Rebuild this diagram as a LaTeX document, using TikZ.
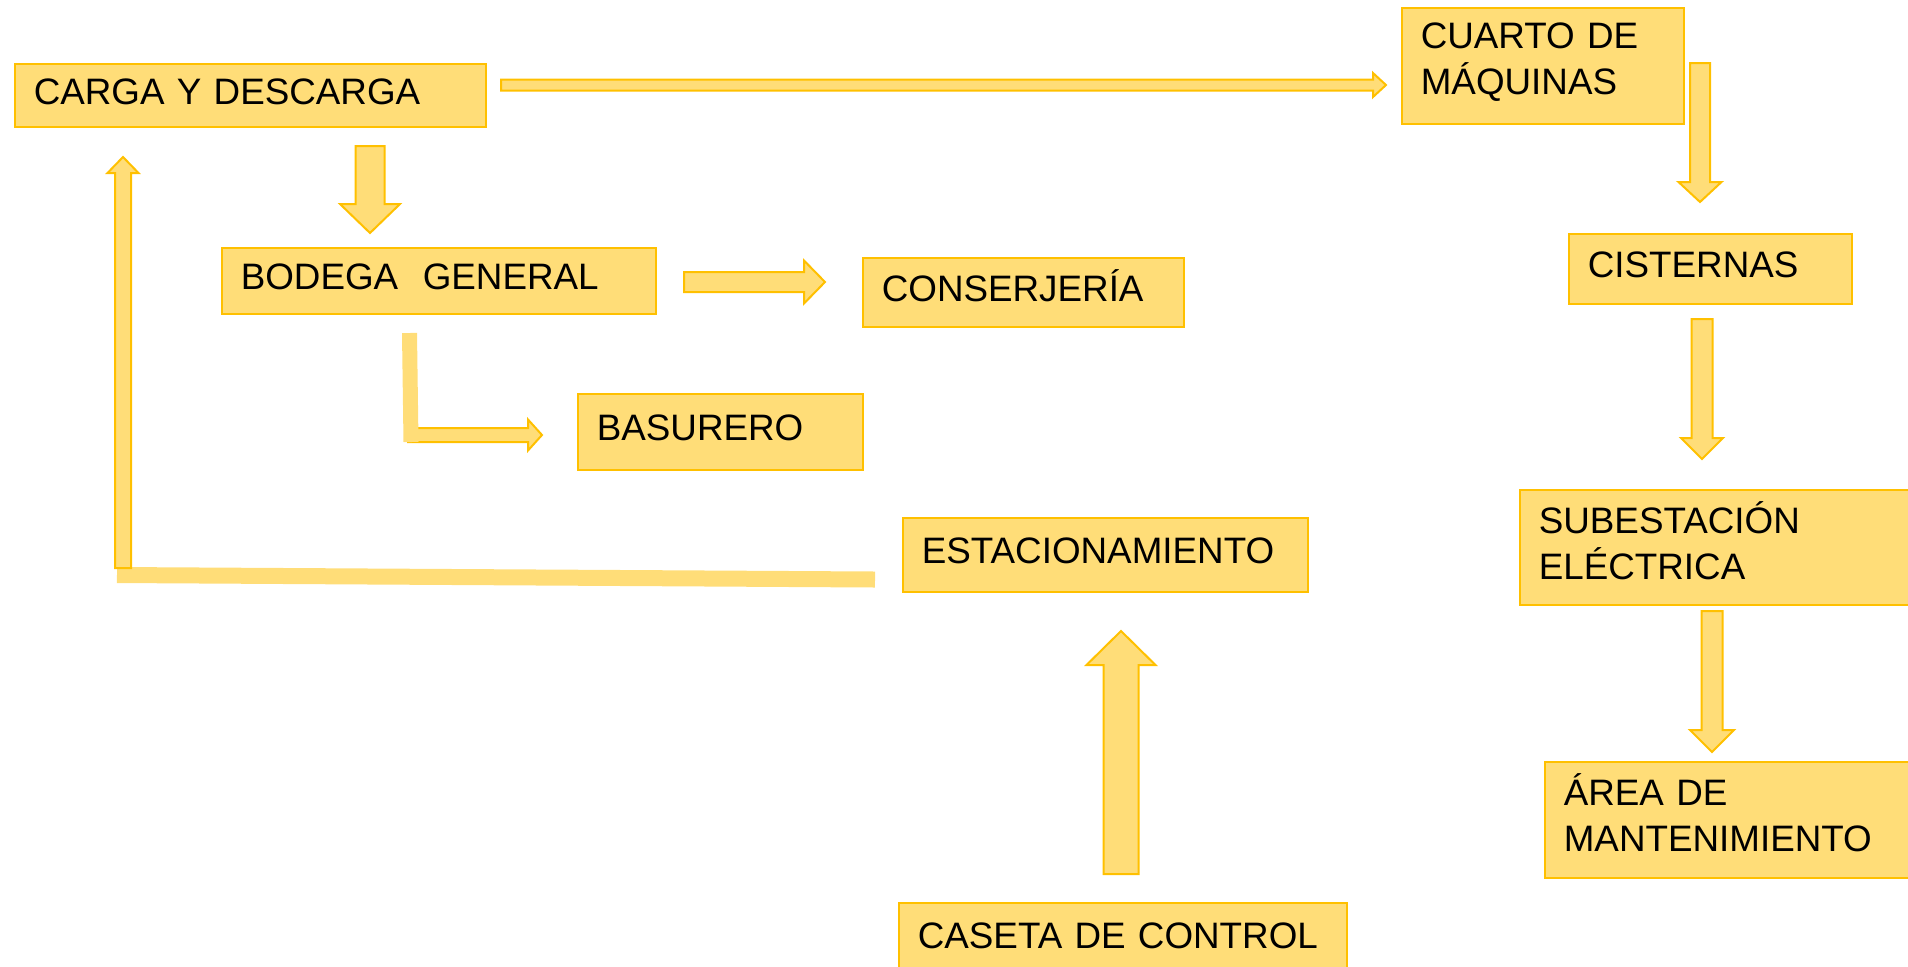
\documentclass[tikz,border=0pt]{standalone}
\usepackage{fontspec}
\setmainfont{Liberation Sans}
\usetikzlibrary{calc}
\definecolor{boxfill}{HTML}{FFDD78}
\definecolor{boxline}{HTML}{FFC000}
\newcommand{\boxfont}{\fontsize{18.4}{23}\selectfont}
% block arrow: tail, tip, half shaft, half head, head length
\newcommand{\blockarrow}[5]{%
  \coordinate (ba-c) at ($(#2)!#5!(#1)$);
  \draw[barrow] ($(#1)!#3!90:(#2)$) -- ($(ba-c)!#3!90:(#2)$) -- ($(ba-c)!#4!90:(#2)$)
    -- (#2) -- ($(ba-c)!#4!-90:(#2)$) -- ($(ba-c)!#3!-90:(#2)$) -- ($(#1)!#3!-90:(#2)$) -- cycle;}
\tikzset{
  blk/.style={draw=boxline, fill=boxfill, line width=0.8pt, anchor=north west,
    inner xsep=9.5pt, inner ysep=0pt, align=left, text height=9.2pt, font=\boxfont},
  barrow/.style={draw=boxline, fill=boxfill, line width=1pt, line join=miter},
  bar/.style={draw=boxfill, line width=#1},
}
\begin{document}
\begin{tikzpicture}[x=0.5pt, y=-0.5pt]
\useasboundingbox (0,0) rectangle (1908,966);
\clip (0,0) rectangle (1908,966);
% boxes
\node[blk, text width=216.5pt, minimum height=31.5pt] (carga) at (14,63) {CARGA~Y~DESCARGA};
\node[blk, text width=122pt, minimum height=58pt] (cuarto) at (1401,7) {CUARTO DE\\MÁQUINAS};
\node[blk, text width=122.5pt, minimum height=35pt] (cisternas) at (1568,233) {CISTERNAS};
\node[blk, text width=198pt, minimum height=33pt] (bodega) at (221,247) {BODEGA~~GENERAL};
\node[blk, text width=141.5pt, minimum height=34.5pt] (conserjeria) at (862,257) {CONSERJERÍA};
\node[blk, text width=123.5pt, minimum height=38pt] (basurero) at (577,393) {BASURERO};
\node[blk, text width=183.5pt, minimum height=37pt] (estacionamiento) at (902,517) {ESTACIONAMIENTO};
\node[blk, text width=179pt, minimum height=57.5pt] (subestacion) at (1519,489) {SUBESTACIÓN\\ELÉCTRICA};
\node[blk, text width=166.5pt, minimum height=58pt] (area) at (1544,761) {ÁREA DE\\MANTENIMIENTO};
\node[blk, text width=205pt, minimum height=36.5pt] (caseta) at (898,902) {CASETA~DE~CONTROL};
% arrow ends
\coordinate (carga-r) at (501,85);      \coordinate (cuarto-l) at (1386,85);
\coordinate (cuarto-b) at (1700,63);    \coordinate (cisternas-t) at (1700,202);
\coordinate (cisternas-b) at (1702,319); \coordinate (subestacion-t) at (1702,459);
\coordinate (subestacion-b) at (1712,611); \coordinate (area-t) at (1712,752);
\coordinate (carga-b) at (370,146);     \coordinate (bodega-t) at (370,233);
\coordinate (bodega-r) at (684,282);    \coordinate (conserjeria-l) at (825,282);
\coordinate (bodega-b) at (409.5,333);  \coordinate (codo) at (411,442);
\coordinate (codo-r) at (408,435);      \coordinate (basurero-l) at (542,435);
\coordinate (est-l) at (875,579.5);     \coordinate (esquina) at (117,575);
\coordinate (esquina-t) at (123,568);   \coordinate (carga-l) at (123,157);
\coordinate (caseta-t) at (1121,874);   \coordinate (est-b) at (1121,631);
% flows
\blockarrow{carga-r}{cuarto-l}{2.75pt}{6pt}{6.5pt}
\blockarrow{cuarto-b}{cisternas-t}{5pt}{10.75pt}{10pt}
\blockarrow{cisternas-b}{subestacion-t}{5.25pt}{10.5pt}{10.5pt}
\blockarrow{subestacion-b}{area-t}{5.25pt}{11pt}{11pt}
\blockarrow{carga-b}{bodega-t}{7.25pt}{15pt}{14.5pt}
\blockarrow{bodega-r}{conserjeria-l}{5pt}{10.75pt}{10.5pt}
\blockarrow{codo-r}{basurero-l}{3.5pt}{7.75pt}{7pt}
\draw[bar=7.5pt] (bodega-b) -- (codo);
\draw[bar=8pt] (est-l) -- (esquina);
\blockarrow{esquina-t}{carga-l}{4pt}{7.75pt}{8pt}
\blockarrow{caseta-t}{est-b}{8.75pt}{17.25pt}{17pt}
\end{tikzpicture}
\end{document}
